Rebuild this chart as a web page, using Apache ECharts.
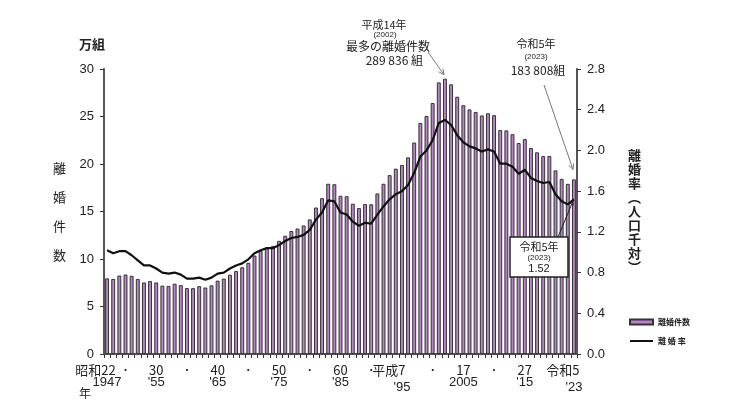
<!DOCTYPE html>
<html>
<head>
<meta charset="utf-8">
<script src="https://cdn.jsdelivr.net/npm/echarts@6/dist/echarts.min.js"></script>
<style>
  html, body { margin: 0; padding: 0; background: #fff; }
  #container { width: 730px; height: 411px; }
</style>
</head>
<body>
<div id="container"></div>
<script>
// 年次
const years = [
  1947, 1948, 1949, 1950, 1951, 1952, 1953, 1954, 1955, 1956,
  1957, 1958, 1959, 1960, 1961, 1962, 1963, 1964, 1965, 1966,
  1967, 1968, 1969, 1970, 1971, 1972, 1973, 1974, 1975, 1976,
  1977, 1978, 1979, 1980, 1981, 1982, 1983, 1984, 1985, 1986,
  1987, 1988, 1989, 1990, 1991, 1992, 1993, 1994, 1995, 1996,
  1997, 1998, 1999, 2000, 2001, 2002, 2003, 2004, 2005, 2006,
  2007, 2008, 2009, 2010, 2011, 2012, 2013, 2014, 2015, 2016,
  2017, 2018, 2019, 2020, 2021, 2022, 2023
]

// 離婚件数（万組）
const divorceCount = [
  7.96, 7.90, 8.26, 8.37, 8.23, 7.90, 7.53, 7.68, 7.53, 7.20,
  7.17, 7.40, 7.25, 6.94, 6.93, 7.14, 7.00, 7.23, 7.72, 7.94,
  8.35, 8.73, 9.13, 9.59, 10.36, 10.84, 11.19, 11.36, 11.91, 12.45,
  12.95, 13.21, 13.53, 14.17, 15.42, 16.40, 17.92, 17.87, 16.66, 16.61,
  15.82, 15.36, 15.78, 15.76, 16.90, 17.92, 18.83, 19.51, 19.90, 20.70,
  22.26, 24.32, 25.05, 26.42, 28.59, 28.98, 28.39, 27.08, 26.19, 25.75,
  25.48, 25.11, 25.34, 25.14, 23.57, 23.54, 23.14, 22.21, 22.62, 21.69,
  21.23, 20.83, 20.85, 19.33, 18.44, 17.91, 18.38
]

// 離婚率（人口千対）
const divorceRate = [
  1.02, 0.99, 1.01, 1.01, 0.97, 0.92, 0.87, 0.87, 0.84, 0.80,
  0.79, 0.80, 0.78, 0.74, 0.74, 0.75, 0.73, 0.75, 0.79, 0.80,
  0.84, 0.87, 0.89, 0.93, 0.99, 1.02, 1.04, 1.04, 1.07, 1.11,
  1.14, 1.15, 1.17, 1.22, 1.32, 1.39, 1.51, 1.50, 1.39, 1.37,
  1.30, 1.26, 1.29, 1.28, 1.37, 1.45, 1.52, 1.57, 1.60, 1.66,
  1.78, 1.94, 2.00, 2.10, 2.27, 2.30, 2.25, 2.15, 2.08, 2.04,
  2.02, 1.99, 2.01, 1.99, 1.87, 1.87, 1.84, 1.77, 1.81, 1.73,
  1.70, 1.68, 1.69, 1.57, 1.50, 1.47, 1.52
]

// 横軸の目盛ラベル（和暦・西暦）
const labelYears = [1947, 1950, 1955, 1960, 1965, 1970, 1975, 1980, 1985, 1990, 1995, 2000, 2005, 2010, 2015, 2023]
const labelEra = ['昭和22', '・', '30', '・', '40', '・', '50', '・', '60', '・', '平成7', '・', '17', '・', '27', '令和5']
const labelWestern = ['1947', '', "'55", '', "'65", '', "'75", '', "'85", '', "'95", '', '2005', '', "'15", "'23"]

// 縦軸の目盛
const countTicks = [0, 30, 5]
const rateTicks = [0, 2.8, 0.4]

const LATIN = "'Liberation Sans', 'Noto Sans CJK JP', sans-serif"
const CJK = "'Noto Sans CJK JP', 'Liberation Sans', sans-serif"

var myChart = echarts.init(document.getElementById('container'))

function xLabel(value) {
  let i = labelYears.indexOf(Number(value))
  if (i < 0) return ''
  let era = labelEra[i]
  let west = labelWestern[i]
  if (era === '・') return '{d|・}'
  if (i === 0) return '{s|' + era + '}\n{w|' + west + '}\n{n|年}'
  if (era === '平成7') return '{h|' + era + '}\n{w2|' + west + '}'
  if (era === '令和5') return '{r|' + era + '}\n{w2|' + west + '}'
  return '{e|' + era + '}\n{w|' + west + '}'
}

let option = {
  animation: false,
  backgroundColor: '#fff',
  grid: {
    left: 104,
    right: 153,
    top: 69,
    bottom: 57
  },
  legend: {
    orient: 'vertical',
    left: 624,
    top: 313,
    itemWidth: 23,
    itemHeight: 5,
    itemGap: 11,
    textStyle: { fontSize: 8, color: '#222', fontFamily: CJK, fontWeight: 'bold' },
    formatter: function (name) {
      return name === '離婚率' ? '離 婚 率' : name
    },
    data: [
      { name: '離婚件数', icon: 'rect' },
      { name: '離婚率', itemStyle: { opacity: 0 } }
    ]
  },
  xAxis: {
    type: 'category',
    data: years,
    axisLine: { lineStyle: { color: '#555', width: 2 } },
    axisTick: { show: true, interval: 0, length: 4, lineStyle: { color: '#333', width: 1 } },
    axisLabel: {
      interval: 0,
      margin: 10,
      color: '#222',
      formatter: xLabel,
      rich: {
        e: { fontSize: 13, lineHeight: 12, fontFamily: CJK, color: '#222' },
        d: { fontSize: 10, lineHeight: 12, fontFamily: CJK, color: '#222' },
        s: { fontSize: 13, lineHeight: 12, fontFamily: CJK, color: '#222', padding: [0, 23, 0, 0] },
        h: { fontSize: 13, lineHeight: 12, fontFamily: CJK, color: '#222', padding: [0, 26, 0, 0] },
        r: { fontSize: 13, lineHeight: 12, fontFamily: CJK, color: '#222', padding: [0, 22, 0, 0] },
        n: { fontSize: 12, lineHeight: 10, fontFamily: CJK, color: '#222', padding: [0, 44, 0, 0] },
        w: { fontSize: 13, lineHeight: 12, fontFamily: LATIN, color: '#222' },
        w2: { fontSize: 13, lineHeight: 22, fontFamily: LATIN, color: '#222' }
      }
    }
  },
  yAxis: [
    {
      type: 'value',
      min: countTicks[0],
      max: countTicks[1],
      interval: countTicks[2],
      name: '離\n婚\n件\n数',
      nameLocation: 'middle',
      nameRotate: 0,
      nameGap: 38,
      nameTextStyle: { fontSize: 13, lineHeight: 29, color: '#222', fontFamily: CJK, padding: [0, 0, 32, 0] },
      axisLine: { show: true, lineStyle: { color: '#555', width: 2 } },
      axisTick: { show: true, length: 4, lineStyle: { color: '#333' } },
      axisLabel: { margin: 10, fontSize: 13, color: '#222', fontFamily: LATIN },
      splitLine: { show: false }
    },
    {
      type: 'value',
      min: rateTicks[0],
      max: rateTicks[1],
      interval: rateTicks[2],
      name: '離\n婚\n率\n︵\n人\n口\n千\n対\n︶',
      nameLocation: 'middle',
      nameRotate: 0,
      nameGap: 51,
      nameTextStyle: { fontSize: 13, lineHeight: 14, color: '#222', fontFamily: CJK, fontWeight: 'bold' },
      axisLine: { show: true, lineStyle: { color: '#555', width: 2 } },
      axisTick: { show: true, length: 4, lineStyle: { color: '#333' } },
      axisLabel: {
        margin: 10, fontSize: 13, color: '#222', fontFamily: LATIN,
        formatter: function (v) { return v.toFixed(1) }
      },
      splitLine: { show: false }
    }
  ],
  series: [
    {
      name: '離婚件数',
      type: 'bar',
      data: divorceCount,
      barWidth: '64%',
      itemStyle: {
        color: '#b784c6',
        borderColor: '#333',
        borderWidth: 1
      }
    },
    {
      name: '離婚率',
      type: 'line',
      yAxisIndex: 1,
      data: divorceRate,
      symbol: 'none',
      lineStyle: { color: '#111', width: 2.2 },
      itemStyle: { color: '#111' }
    }
  ]
}

// 絵画
myChart.setOption(option)

// 矢印（線＋矢じり）
function arrow(x1, y1, x2, y2, color, head) {
  let a = Math.atan2(y2 - y1, x2 - x1)
  let p1 = [x2 - head * Math.cos(a - 0.45), y2 - head * Math.sin(a - 0.45)]
  let p2 = [x2 - head * Math.cos(a + 0.45), y2 - head * Math.sin(a + 0.45)]
  return [
    { type: 'line', shape: { x1: x1, y1: y1, x2: x2, y2: y2 }, style: { stroke: color, lineWidth: 1 }, z: 10 },
    { type: 'polyline', shape: { points: [p1, [x2, y2], p2] }, style: { stroke: color, lineWidth: 1, fill: null }, z: 10 }
  ]
}

function txt(x, y, text, size, align, font, weight) {
  return {
    type: 'text', x: x, y: y, z: 11,
    style: {
      text: text, fontSize: size, fill: '#222', align: align || 'center', verticalAlign: 'middle',
      fontFamily: font || CJK, fontWeight: weight || 'normal'
    }
  }
}

// 注記の位置をデータから求める
let peakIdx = years.indexOf(2002)
let lastIdx = years.length - 1
let peakTop = myChart.convertToPixel({ seriesIndex: 0 }, [peakIdx, divorceCount[peakIdx]])
let lastTop = myChart.convertToPixel({ seriesIndex: 0 }, [lastIdx, divorceCount[lastIdx]])
let lastRate = myChart.convertToPixel({ seriesIndex: 1 }, [lastIdx, divorceRate[lastIdx]])

let graphics = []
  .concat([
    txt(92, 44, '万組', 13, 'center', CJK, 'bold'),
    txt(384, 25, '平成14年', 11),
    txt(385, 35, '(2002)', 8, 'center', LATIN),
    txt(388, 46, '最多の離婚件数', 12),
    txt(423, 60, '289 836 組', 12, 'right'),
    txt(536, 44, '令和5年', 11),
    txt(536, 57, '(2023)', 8, 'center', LATIN),
    txt(538, 70, '183 808組', 12)
  ])
  .concat(arrow(428, 52, peakTop[0] - 1, peakTop[1] - 4, '#777', 6))
  .concat(arrow(544, 85, lastTop[0] - 1, lastTop[1] - 10, '#777', 6))
  .concat([
    {
      type: 'rect', z: 10,
      shape: { x: 510, y: 237, width: 58, height: 40 },
      style: { fill: '#fff', stroke: '#222', lineWidth: 1.5 }
    },
    txt(539, 247, '令和5年', 11),
    txt(539, 258, '(2023)', 8, 'center', LATIN),
    txt(539, 269, '1.52', 11, 'center', LATIN)
  ])
  .concat(arrow(558, 237, lastRate[0] - 1, lastRate[1] + 2, '#222', 4))

myChart.setOption({ graphic: graphics })
</script>
</body>
</html>
